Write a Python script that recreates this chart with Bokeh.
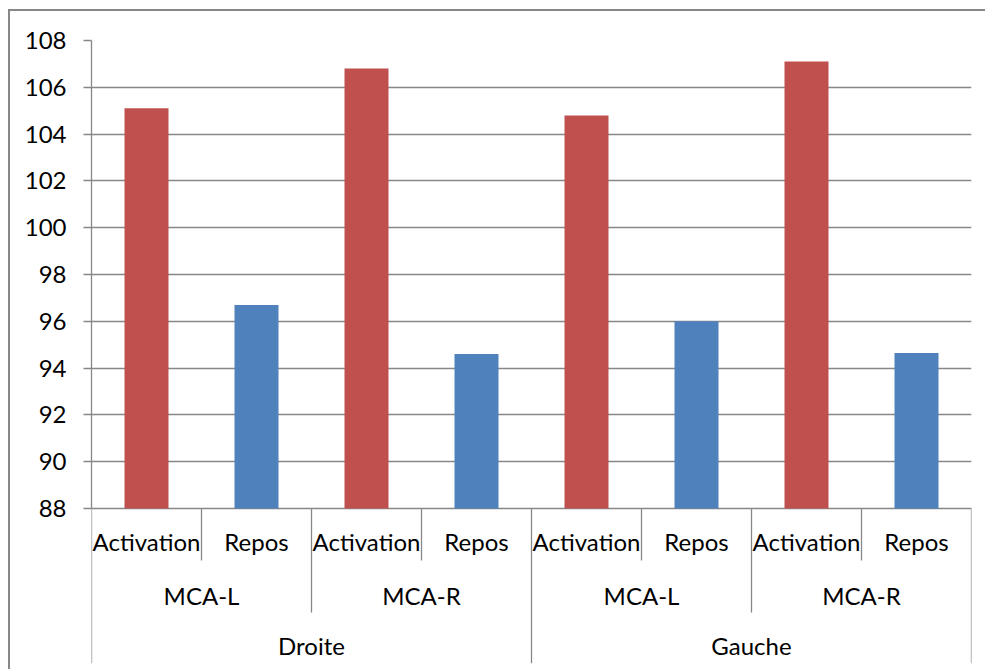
from bokeh.plotting import figure
from bokeh.models import FactorRange, Range1d, FixedTicker, ColumnDataSource
from bokeh.embed import file_html
from bokeh.resources import INLINE
from bokeh.core.properties import value

# ---- data ----
sides = ["Droite", "Droite", "Droite", "Droite", "Gauche", "Gauche", "Gauche", "Gauche"]
arteries = ["MCA-L", "MCA-L", "MCA-R", "MCA-R", "MCA-L", "MCA-L", "MCA-R", "MCA-R"]
states = ["Activation", "Repos", "Activation", "Repos", "Activation", "Repos", "Activation", "Repos"]
values = [105.1, 96.7, 106.8, 94.6, 104.8, 96.0, 107.1, 94.65]
y_ticks = [88, 90, 92, 94, 96, 98, 100, 102, 104, 106, 108]
state_colors = {"Activation": "#C0504D", "Repos": "#4F81BD"}

# ---- layout constants (pixels) ----
Y_MIN, Y_MAX = y_ticks[0], y_ticks[-1]
PLOT_H = 468          # height of the value area
BAND_H = 155          # height of the category band under the value area
PX_PER_UNIT = PLOT_H / (Y_MAX - Y_MIN)
ROW_CENTERS = [33, 87, 137]     # label rows, inner level first
SEP_DEPTH = [52, 104, 155]      # separator depth, inner level first
GRID = "#878787"
FONT = value("Lato")
FONT_SIZE = "24px"


def below(px):
    """Data y for a point px pixels under the value axis."""
    return Y_MIN - px / PX_PER_UNIT


factors = list(zip(sides, arteries, states))

p = figure(
    x_range=FactorRange(factors=factors, factor_padding=0, subgroup_padding=0,
                        group_padding=0, range_padding=0),
    y_range=Range1d(below(BAND_H), Y_MAX),
    frame_width=880, frame_height=PLOT_H + BAND_H,
    min_border_left=81, min_border_right=14, min_border_top=29, min_border_bottom=6,
    x_axis_location=None,
    output_backend="svg", toolbar_location=None,
)
p.outline_line_color = None
p.background_fill_color = "white"
p.border_fill_color = "white"
# chart border: only its top and left edges fall inside the page
p.margin = (9, 0, 0, 8)
p.styles = {"border-top": f"2px solid {GRID}", "border-left": f"2px solid {GRID}"}

# value axis
yax = p.yaxis[0]
yax.ticker = FixedTicker(ticks=y_ticks)
yax.bounds = (Y_MIN, Y_MAX)
yax.axis_line_color = GRID
yax.axis_line_width = 1.3
yax.major_tick_line_color = GRID
yax.major_tick_line_width = 1.3
yax.major_tick_out = 8
yax.major_tick_in = 0
yax.minor_tick_line_color = None
yax.major_label_text_font = "Lato"
yax.major_label_text_font_size = FONT_SIZE
yax.major_label_text_color = "#000000"
yax.major_label_standoff = 17

p.xgrid.visible = False
p.ygrid.ticker = FixedTicker(ticks=y_ticks)
p.ygrid.grid_line_color = GRID
p.ygrid.grid_line_width = 1.3

# bars
src = ColumnDataSource(dict(
    x=factors, top=values, color=[state_colors[s] for s in states],
))
p.vbar(x="x", top="top", bottom=Y_MIN, width=0.4, fill_color="color",
       line_color=None, source=src)

# category separators: depth depends on the outermost level that changes
sx, sy0, sy1 = [], [], []
n = len(factors)
for i in range(n + 1):
    if i == 0 or i == n:
        level = 0
    else:
        level = next(k for k in range(3) if factors[i - 1][k] != factors[i][k])
    depth = SEP_DEPTH[2 - level]
    xf = (*factors[i], -0.5) if i < n else (*factors[n - 1], 0.5)
    sx.append(xf)
    sy0.append(Y_MIN)
    sy1.append(below(depth))
p.segment(x0=sx, y0=sy0, x1=sx, y1=sy1, line_color=GRID, line_width=1.3)

# category labels, one row per level
inner = factors
mid = list(dict.fromkeys((a, b) for a, b, _ in factors))
outer = list(dict.fromkeys((a,) for a, _, _ in factors))
for keys, labels, row in [
    (inner, [f[2] for f in inner], 0),
    (mid, [m[1] for m in mid], 1),
    (outer, [o[0] for o in outer], 2),
]:
    p.text(x=keys, y=[below(ROW_CENTERS[row])] * len(keys), text=labels,
           text_align="center", text_baseline="middle", text_font=FONT,
           text_font_size=FONT_SIZE, text_color="#000000")

open("out.html", "w").write(file_html(p, INLINE))
